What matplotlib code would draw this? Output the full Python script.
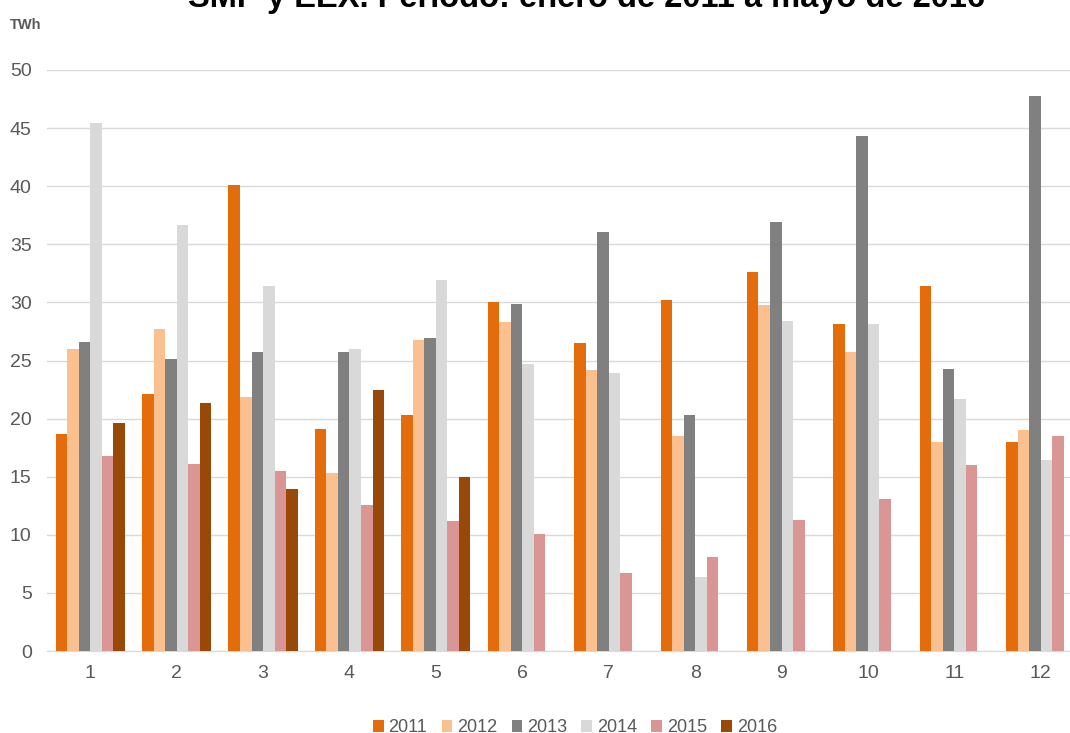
import numpy as np
import matplotlib.pyplot as plt

plt.rcParams['font.family'] = ['Liberation Sans', 'DejaVu Sans']

months = np.arange(1, 13)
years = ['2011', '2012', '2013', '2014', '2015', '2016']
colors = ['#E46C0A', '#FAC090', '#808080', '#D9D9D9', '#D99694', '#984807']

twh_2011 = [18.7, 22.1, 40.1, 19.1, 20.3, 30.0, 26.5, 30.2, 32.6, 28.1, 31.4, 18.0]
twh_2012 = [26.0, 27.7, 21.9, 15.3, 26.8, 28.3, 24.2, 18.5, 29.8, 25.7, 18.0, 19.0]
twh_2013 = [26.6, 25.1, 25.7, 25.7, 26.9, 29.9, 36.1, 20.3, 36.9, 44.3, 24.3, 47.8]
twh_2014 = [45.4, 36.7, 31.4, 26.0, 31.9, 24.7, 23.9, 6.4, 28.4, 28.1, 21.7, 16.4]
twh_2015 = [16.8, 16.1, 15.5, 12.6, 11.2, 10.1, 6.7, 8.1, 11.3, 13.1, 16.0, 18.5]
twh_2016 = [19.6, 21.3, 13.9, 22.5, 15.0]  # enero a mayo

series = [twh_2011, twh_2012, twh_2013, twh_2014, twh_2015, twh_2016]

fig = plt.figure(figsize=(10.7, 7.33), dpi=100)
ax = fig.add_axes([47/1070, 82/733, 1037/1070, 581/733])

w = 0.8 / 6
for i, (vals, yr, c) in enumerate(zip(series, years, colors)):
    x = months[:len(vals)] - 0.4 + w * (i + 0.5)
    ax.bar(x, vals, width=w, color=c, label=yr, zorder=3)

ax.set_xlim(0.5, 12.5)
ax.set_ylim(0, 50)
ax.set_yticks(range(0, 51, 5))
ax.set_xticks(months)
ax.grid(axis='y', color='#D9D9D9', linewidth=1, zorder=0)
for s in ['top', 'right', 'left']:
    ax.spines[s].set_visible(False)
ax.spines['bottom'].set_color('#D9D9D9')
ax.tick_params(axis='both', length=0, labelsize=14, colors='#595959')
ax.tick_params(axis='x', pad=10)
ax.tick_params(axis='y', pad=11)

fig.text(10/1070, 1 - 25/733, 'TWh', fontsize=10.5, fontweight='bold',
         color='#595959', va='center', ha='left')
fig.text(587/1070, 1 - 7/733, 'SMP y EEX. Periodo: enero de 2011 a mayo de 2016',
         fontsize=23.5, fontweight='bold', color='black', ha='center', va='baseline')

# leyenda al pie, casi pegada al borde inferior
ax.legend(loc='center', bbox_to_anchor=(528/1037, -77/581),
          ncol=6, frameon=False, fontsize=13, handlelength=0.6, handleheight=0.6,
          handletextpad=0.25, columnspacing=0.8, labelcolor='#595959')

fig.savefig('out.png', dpi=100)
